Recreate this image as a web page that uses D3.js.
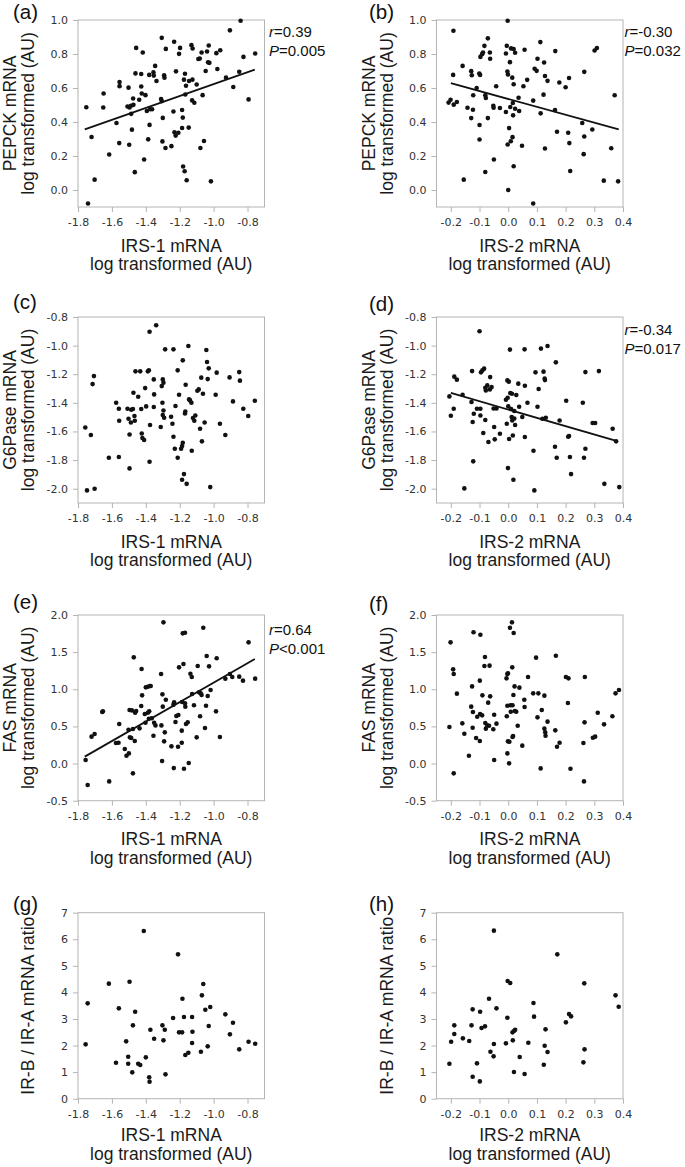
<!DOCTYPE html>
<html><head><meta charset="utf-8">
<script src="https://cdn.jsdelivr.net/npm/d3@7"></script>
<style>body{margin:0;background:#fff}svg{display:block}</style>
</head><body><svg id="c" width="685" height="1167"></svg>
<script>
// ---------- DATA ----------
const xTicksIrs1 = [-1.8, -1.6, -1.4, -1.2, -1.0, -0.8];
const xTicksIrs2 = [-0.2, -0.1, 0.0, 0.1, 0.2, 0.3, 0.4];
const yTicksPepck = [0.0, 0.2, 0.4, 0.6, 0.8, 1.0];
const yTicksG6pase = [-2.0, -1.8, -1.6, -1.4, -1.2, -1.0, -0.8];
const yTicksFas = [-0.5, 0.0, 0.5, 1.0, 1.5, 2.0];
const yTicksRatio = [0, 1, 2, 3, 4, 5, 6, 7];

const pepckVsIrs1 = [[-1.751,0.487],[-1.741,-0.079],[-1.72,0.312],[-1.702,0.061],[-1.651,0.485],[-1.649,0.568],[-1.616,0.209],[-1.573,0.394],[-1.557,0.276],[-1.555,0.635],[-1.555,0.611],[-1.502,0.602],[-1.508,0.491],[-1.496,0.485],[-1.498,0.266],[-1.488,0.495],[-1.486,0.448],[-1.482,0.355],[-1.475,0.538],[-1.473,0.501],[-1.465,0.105],[-1.461,0.686],[-1.457,0.836],[-1.439,0.531],[-1.427,0.682],[-1.427,0.609],[-1.424,0.568],[-1.418,0.809],[-1.41,0.179],[-1.402,0.558],[-1.394,0.465],[-1.386,0.298],[-1.38,0.677],[-1.375,0.475],[-1.378,0.383],[-1.363,0.475],[-1.355,0.692],[-1.353,0.673],[-1.345,0.73],[-1.337,0.641],[-1.306,0.895],[-1.31,0.535],[-1.306,0.523],[-1.302,0.286],[-1.3,0.424],[-1.292,0.675],[-1.29,0.661],[-1.282,0.83],[-1.284,0.247],[-1.249,0.258],[-1.237,0.462],[-1.233,0.872],[-1.231,0.339],[-1.224,0.32],[-1.222,0.698],[-1.208,0.337],[-1.204,0.801],[-1.198,0.836],[-1.186,0.471],[-1.186,0.365],[-1.182,0.426],[-1.18,0.138],[-1.175,0.649],[-1.171,0.11],[-1.169,0.684],[-1.167,0.562],[-1.163,0.613],[-1.159,0.057],[-1.147,0.367],[-1.145,0.641],[-1.131,0.852],[-1.127,0.527],[-1.125,0.649],[-1.124,0.832],[-1.114,0.513],[-1.1,0.621],[-1.09,0.771],[-1.082,0.773],[-1.078,0.247],[-1.071,0.809],[-1.065,0.558],[-1.057,0.288],[-1.047,0.7],[-1.039,0.815],[-1.033,0.751],[-1.029,0.85],[-1.025,0.748],[-1.016,0.051],[-0.978,0.712],[-0.984,0.805],[-0.961,0.822],[-0.927,0.661],[-0.904,0.939],[-0.884,0.606],[-0.849,0.696],[-0.841,0.996],[-0.824,0.783],[-0.794,0.533],[-0.755,0.803]];

const pepckVsIrs2 = [[-0.208,0.514],[-0.201,0.531],[-0.19,0.502],[-0.179,0.518],[-0.191,0.937],[-0.192,0.677],[-0.159,0.73],[-0.155,0.061],[-0.142,0.484],[-0.129,0.699],[-0.127,0.675],[-0.129,0.423],[-0.123,0.472],[-0.122,0.557],[-0.11,0.6],[-0.101,0.685],[-0.098,0.677],[-0.1,0.382],[-0.1,0.297],[-0.097,0.783],[-0.091,0.799],[-0.088,0.809],[-0.083,0.848],[-0.08,0.557],[-0.078,0.541],[-0.08,0.106],[-0.071,0.892],[-0.071,0.423],[-0.064,0.809],[-0.063,0.772],[-0.052,0.496],[-0.051,0.484],[-0.05,0.179],[-0.042,0.61],[-0.029,0.482],[-0.008,0.459],[-0.008,0.803],[-0.005,0.848],[-0.002,0.996],[-0.003,0.697],[-0.001,0.679],[-0.002,0.268],[0.0,0.0],[0.003,0.364],[0.006,0.752],[0.007,0.488],[0.01,0.833],[0.009,0.287],[0.014,0.661],[0.015,0.311],[0.016,0.512],[0.017,0.439],[0.019,0.829],[0.019,0.622],[0.019,0.14],[0.024,0.807],[0.024,0.478],[0.036,0.543],[0.038,0.465],[0.048,0.26],[0.053,0.61],[0.057,0.825],[0.066,0.648],[0.087,0.526],[0.087,-0.079],[0.092,0.713],[0.099,0.701],[0.102,0.772],[0.112,0.87],[0.113,0.451],[0.123,0.561],[0.125,0.75],[0.128,0.671],[0.128,0.244],[0.137,0.642],[0.164,0.817],[0.163,0.47],[0.17,0.343],[0.178,0.632],[0.2,0.604],[0.209,0.337],[0.212,0.659],[0.213,0.276],[0.216,0.112],[0.258,0.394],[0.263,0.211],[0.265,0.695],[0.265,0.315],[0.293,0.356],[0.301,0.821],[0.309,0.835],[0.333,0.055],[0.359,0.246],[0.371,0.557],[0.383,0.051]];

const g6paseVsIrs1 = [[-1.757,-1.572],[-1.747,-2.012],[-1.724,-1.625],[-1.702,-2.0],[-1.714,-1.269],[-1.706,-1.213],[-1.618,-1.784],[-1.575,-1.399],[-1.559,-1.441],[-1.557,-1.525],[-1.559,-1.779],[-1.508,-1.441],[-1.502,-1.511],[-1.496,-1.621],[-1.496,-1.858],[-1.488,-1.537],[-1.486,-1.448],[-1.476,-1.443],[-1.473,-1.329],[-1.467,-1.492],[-1.465,-1.525],[-1.461,-1.18],[-1.445,-1.357],[-1.433,-1.18],[-1.427,-1.443],[-1.424,-1.614],[-1.42,-1.646],[-1.41,-1.66],[-1.404,-1.297],[-1.398,-1.425],[-1.388,-1.18],[-1.382,-1.173],[-1.378,-0.903],[-1.375,-1.555],[-1.378,-1.812],[-1.353,-1.236],[-1.351,-1.341],[-1.353,-1.429],[-1.339,-0.858],[-1.312,-1.569],[-1.306,-1.283],[-1.3,-1.236],[-1.296,-1.259],[-1.302,-1.399],[-1.3,-1.485],[-1.296,-1.453],[-1.292,-1.504],[-1.286,-1.026],[-1.251,-1.497],[-1.243,-1.546],[-1.237,-1.026],[-1.237,-1.637],[-1.229,-1.721],[-1.225,-1.422],[-1.212,-1.173],[-1.212,-1.784],[-1.204,-1.343],[-1.192,-1.721],[-1.186,-1.702],[-1.182,-1.679],[-1.182,-1.103],[-1.186,-1.938],[-1.175,-1.898],[-1.169,-1.474],[-1.167,-1.46],[-1.165,-1.273],[-1.159,-1.966],[-1.149,-1.003],[-1.145,-1.376],[-1.139,-1.383],[-1.131,-1.399],[-1.129,-1.735],[-1.122,-1.506],[-1.114,-1.525],[-1.108,-1.488],[-1.096,-1.315],[-1.088,-1.306],[-1.08,-1.581],[-1.073,-1.224],[-1.069,-1.669],[-1.063,-1.336],[-1.053,-1.537],[-1.043,-1.031],[-1.039,-1.115],[-1.035,-1.234],[-1.029,-1.159],[-1.02,-1.989],[-0.988,-1.343],[-0.982,-1.189],[-0.963,-1.546],[-0.931,-1.625],[-0.906,-1.222],[-0.886,-1.39],[-0.849,-1.185],[-0.845,-1.245],[-0.825,-1.441],[-0.796,-1.492],[-0.757,-1.385]];

const g6paseVsIrs2 = [[-0.205,-1.355],[-0.2,-1.49],[-0.19,-1.441],[-0.188,-1.217],[-0.179,-1.238],[-0.159,-1.343],[-0.153,-1.998],[-0.128,-1.394],[-0.126,-1.178],[-0.124,-1.534],[-0.122,-1.809],[-0.12,-1.476],[-0.109,-1.441],[-0.1,-0.9],[-0.097,-1.441],[-0.097,-1.488],[-0.095,-1.187],[-0.09,-1.173],[-0.087,-1.611],[-0.084,-1.161],[-0.08,-1.294],[-0.08,-1.52],[-0.078,-1.313],[-0.073,-1.278],[-0.069,-1.674],[-0.064,-1.306],[-0.063,-1.22],[-0.058,-1.29],[-0.051,-1.439],[-0.049,-1.569],[-0.047,-1.655],[-0.041,-1.439],[-0.029,-1.616],[-0.008,-1.378],[-0.001,-1.856],[-0.005,-1.546],[-0.003,-1.243],[-0.002,-1.364],[0.0,-1.425],[0.002,-1.252],[0.003,-1.653],[0.006,-1.028],[0.007,-1.331],[0.01,-1.443],[0.012,-1.499],[0.013,-1.336],[0.014,-1.523],[0.016,-1.628],[0.018,-1.938],[0.021,-1.509],[0.021,-1.457],[0.024,-1.555],[0.028,-1.345],[0.035,-1.266],[0.038,-1.427],[0.049,-1.499],[0.057,-1.026],[0.058,-1.28],[0.058,-1.639],[0.067,-1.399],[0.088,-1.735],[0.091,-2.012],[0.095,-1.187],[0.102,-1.427],[0.106,-1.303],[0.114,-1.021],[0.119,-1.511],[0.123,-1.182],[0.127,-1.231],[0.128,-1.241],[0.131,-1.504],[0.137,-1.003],[0.166,-1.117],[0.163,-1.707],[0.169,-1.784],[0.179,-1.523],[0.202,-1.385],[0.209,-1.637],[0.212,-1.632],[0.215,-1.779],[0.219,-1.898],[0.26,-1.399],[0.264,-1.784],[0.269,-1.185],[0.269,-1.721],[0.294,-1.541],[0.303,-1.541],[0.316,-1.178],[0.335,-1.966],[0.364,-1.581],[0.376,-1.669],[0.387,-1.989]];

const fasVsIrs1 = [[-1.755,0.048],[-1.743,-0.289],[-1.72,0.362],[-1.702,0.398],[-1.657,0.694],[-1.653,0.703],[-1.616,-0.24],[-1.576,0.277],[-1.561,0.281],[-1.557,0.532],[-1.524,0.196],[-1.514,0.106],[-1.5,0.137],[-1.502,0.456],[-1.496,0.721],[-1.494,0.353],[-1.486,0.344],[-1.482,0.716],[-1.476,-0.132],[-1.476,0.465],[-1.471,1.43],[-1.465,0.303],[-1.463,0.685],[-1.457,0.707],[-1.437,0.474],[-1.427,0.775],[-1.425,1.273],[-1.422,0.918],[-1.406,0.667],[-1.402,0.55],[-1.4,1.026],[-1.388,0.685],[-1.388,1.035],[-1.382,0.604],[-1.38,0.703],[-1.376,1.044],[-1.371,1.044],[-1.365,0.609],[-1.355,0.375],[-1.351,0.55],[-1.343,0.514],[-1.31,1.206],[-1.308,0.514],[-1.304,0.034],[-1.302,0.932],[-1.3,0.766],[-1.296,1.901],[-1.292,0.299],[-1.288,0.42],[-1.282,0.86],[-1.249,0.232],[-1.237,0.793],[-1.235,-0.061],[-1.233,0.824],[-1.225,0.559],[-1.22,0.64],[-1.21,0.227],[-1.208,0.653],[-1.204,1.295],[-1.188,0.443],[-1.188,0.281],[-1.186,0.829],[-1.182,1.753],[-1.178,1.34],[-1.175,-0.07],[-1.169,1.762],[-1.169,0.811],[-1.167,0.766],[-1.163,0.532],[-1.153,0.555],[-1.147,0.007],[-1.137,1.21],[-1.129,1.165],[-1.127,0.936],[-1.116,0.784],[-1.1,0.353],[-1.094,1.313],[-1.086,0.959],[-1.08,0.636],[-1.076,0.945],[-1.071,0.923],[-1.061,1.829],[-1.051,0.478],[-1.045,0.779],[-1.041,1.448],[-1.035,0.909],[-1.027,1.309],[-1.018,0.99],[-0.986,0.703],[-0.982,1.417],[-0.963,0.357],[-0.931,1.143],[-0.904,1.206],[-0.89,1.165],[-0.849,1.17],[-0.827,1.116],[-0.794,1.632],[-0.755,1.143]];

const fasVsIrs2 = [[-0.201,1.632],[-0.205,0.492],[-0.192,1.268],[-0.19,1.206],[-0.19,-0.132],[-0.179,0.941],[-0.16,0.541],[-0.153,0.402],[-0.137,0.106],[-0.129,0.766],[-0.126,1.039],[-0.124,0.483],[-0.123,0.694],[-0.121,1.767],[-0.112,0.344],[-0.108,0.631],[-0.099,0.303],[-0.099,1.116],[-0.098,0.667],[-0.097,1.735],[-0.091,0.649],[-0.09,0.918],[-0.083,1.313],[-0.081,1.434],[-0.08,0.546],[-0.078,0.47],[-0.073,0.514],[-0.07,0.82],[-0.067,0.51],[-0.065,1.318],[-0.063,0.905],[-0.052,0.461],[-0.049,0.658],[-0.049,0.048],[-0.041,0.537],[-0.006,1.147],[-0.005,0.636],[-0.003,1.206],[-0.003,0.137],[-0.003,0.779],[-0.001,1.215],[-0.001,0.299],[0.003,0.003],[0.004,0.294],[0.006,1.829],[0.008,0.784],[0.009,0.698],[0.013,1.901],[0.014,1.295],[0.015,0.357],[0.015,0.784],[0.017,0.371],[0.018,0.923],[0.019,1.758],[0.022,1.039],[0.023,0.707],[0.028,0.698],[0.033,0.51],[0.039,1.022],[0.049,0.241],[0.056,0.86],[0.057,0.761],[0.069,1.165],[0.087,0.945],[0.097,1.426],[0.102,0.622],[0.105,0.945],[0.113,-0.065],[0.117,0.721],[0.126,0.914],[0.126,0.47],[0.129,0.42],[0.13,0.375],[0.137,0.564],[0.164,0.447],[0.166,1.452],[0.17,0.227],[0.179,0.281],[0.201,1.165],[0.208,0.815],[0.21,1.147],[0.217,-0.07],[0.262,0.277],[0.264,-0.24],[0.266,0.555],[0.267,1.165],[0.295,0.348],[0.303,0.362],[0.312,0.685],[0.334,0.528],[0.363,0.636],[0.374,0.945],[0.386,0.99]];

const ratioVsIrs1 = [[-1.755,2.045],[-1.743,3.588],[-1.618,4.329],[-1.576,1.355],[-1.559,3.4],[-1.516,2.158],[-1.504,1.581],[-1.504,1.317],[-1.496,4.404],[-1.48,0.991],[-1.476,2.76],[-1.463,3.275],[-1.445,1.317],[-1.433,1.267],[-1.412,6.311],[-1.4,1.556],[-1.38,0.803],[-1.378,0.64],[-1.373,2.597],[-1.351,2.258],[-1.302,2.76],[-1.296,2.196],[-1.288,2.597],[-1.284,0.916],[-1.239,3.036],[-1.21,5.433],[-1.204,2.497],[-1.186,2.497],[-1.184,3.764],[-1.175,3.074],[-1.167,1.644],[-1.149,1.732],[-1.127,3.074],[-1.125,2.522],[-1.127,2.095],[-1.075,1.769],[-1.069,3.89],[-1.061,4.316],[-1.049,3.35],[-1.035,1.97],[-1.029,2.735],[-1.02,3.45],[-0.931,3.174],[-0.904,2.422],[-0.886,2.861],[-0.849,1.857],[-0.794,2.146],[-0.755,2.07]];

const ratioVsIrs2 = [[-0.205,1.317],[-0.199,2.146],[-0.188,2.76],[-0.188,2.434],[-0.158,2.271],[-0.136,2.171],[-0.128,2.76],[-0.124,3.363],[-0.124,0.828],[-0.109,1.33],[-0.098,3.275],[-0.099,0.652],[-0.093,2.66],[-0.081,2.723],[-0.067,3.764],[-0.062,1.769],[-0.05,6.324],[-0.05,2.058],[-0.051,1.593],[-0.041,3.4],[-0.008,2.083],[-0.003,3.049],[-0.002,4.429],[0.007,4.354],[0.015,2.497],[0.016,2.196],[0.02,1.004],[0.021,2.56],[0.024,2.597],[0.04,1.568],[0.057,0.928],[0.07,2.108],[0.088,3.601],[0.09,3.087],[0.124,1.28],[0.127,1.995],[0.13,2.61],[0.137,1.757],[0.171,5.433],[0.201,2.873],[0.212,3.187],[0.219,3.099],[0.262,1.368],[0.265,4.341],[0.266,1.857],[0.374,3.89],[0.385,3.463]];

// regression line end points
const fitA = [[-1.76, 0.357], [-0.757, 0.708]];
const fitB = [[-0.2, 0.628], [0.385, 0.357]];
const fitD = [[-0.2, -1.331], [0.38, -1.667]];
const fitE = [[-1.76, 0.093], [-0.757, 1.408]];

// stats text
const statsA = ["0.39", "=0.005"];
const statsB = ["-0.30", "=0.032"];
const statsD = ["-0.34", "=0.017"];
const statsE = ["0.64", "<0.001"];

// ---------- LAYOUT ----------
const svg = d3.select('#c');
const colLeft = [78, 436.5];
const plotW = 186.5;
const rows = [
  {top: 20, bottom: 207, title1: 44.5, title2: 63},
  {top: 317, bottom: 503, title1: 44.5, title2: 63},
  {top: 615, bottom: 800.7, title1: 44.5, title2: 63},
  {top: 912.7, bottom: 1098.7, title1: 42.5, title2: 61}
];
const FRAME = '#b4b4b4';
const TITLE_FONT = '"Liberation Sans", Arial, sans-serif';
const TICK_FONT = '"DejaVu Sans", Verdana, sans-serif';

const panels = [
  {label:'(a)', col:0, row:0, labelY:18.5, data:pepckVsIrs1, fit:fitA, stats:statsA, statsDy:17,
   xDomain:[-1.8,-0.7], xTicks:xTicksIrs1, yDomain:[-0.1,1.0], yTicks:yTicksPepck, yFmt:1,
   xTitle:['IRS-1 mRNA','log transformed (AU)'], yTitle:['PEPCK mRNA','log transformed (AU)']},
  {label:'(b)', col:1, row:0, labelY:18.5, data:pepckVsIrs2, fit:fitB, stats:statsB, statsDy:17,
   xDomain:[-0.25,0.4], xTicks:xTicksIrs2, yDomain:[-0.1,1.0], yTicks:yTicksPepck, yFmt:1,
   xTitle:['IRS-2 mRNA','log transformed (AU)'], yTitle:['PEPCK mRNA','log transformed (AU)']},
  {label:'(c)', col:0, row:1, labelY:309, data:g6paseVsIrs1,
   xDomain:[-1.8,-0.7], xTicks:xTicksIrs1, yDomain:[-2.1,-0.8], yTicks:yTicksG6pase, yFmt:1,
   xTitle:['IRS-1 mRNA','log transformed (AU)'], yTitle:['G6Pase mRNA','log transformed (AU)']},
  {label:'(d)', col:1, row:1, labelY:311, data:g6paseVsIrs2, fit:fitD, stats:statsD, statsDy:18,
   xDomain:[-0.25,0.4], xTicks:xTicksIrs2, yDomain:[-2.1,-0.8], yTicks:yTicksG6pase, yFmt:1,
   xTitle:['IRS-2 mRNA','log transformed (AU)'], yTitle:['G6Pase mRNA','log transformed (AU)']},
  {label:'(e)', col:0, row:2, labelY:609, data:fasVsIrs1, fit:fitE, stats:statsE, statsDy:20,
   xDomain:[-1.8,-0.7], xTicks:xTicksIrs1, yDomain:[-0.5,2.0], yTicks:yTicksFas, yFmt:1,
   xTitle:['IRS-1 mRNA','log transformed (AU)'], yTitle:['FAS mRNA','log transformed (AU)']},
  {label:'(f)', col:1, row:2, labelY:611, data:fasVsIrs2,
   xDomain:[-0.25,0.4], xTicks:xTicksIrs2, yDomain:[-0.5,2.0], yTicks:yTicksFas, yFmt:1,
   xTitle:['IRS-2 mRNA','log transformed (AU)'], yTitle:['FAS mRNA','log transformed (AU)']},
  {label:'(g)', col:0, row:3, labelY:911, data:ratioVsIrs1,
   xDomain:[-1.8,-0.7], xTicks:xTicksIrs1, yDomain:[0,7], yTicks:yTicksRatio, yFmt:0,
   xTitle:['IRS-1 mRNA','log transformed (AU)'], yTitle:['IR-B / IR-A mRNA ratio']},
  {label:'(h)', col:1, row:3, labelY:911, data:ratioVsIrs2,
   xDomain:[-0.25,0.4], xTicks:xTicksIrs2, yDomain:[0,7], yTicks:yTicksRatio, yFmt:0,
   xTitle:['IRS-2 mRNA','log transformed (AU)'], yTitle:['IR-B / IR-A mRNA ratio']}
];

function styleAxis(sel) {
  sel.select('.domain').remove();
  sel.selectAll('.tick line').attr('stroke', FRAME);
  sel.selectAll('.tick text').attr('font-family', TICK_FONT).attr('font-size', 11).attr('fill', '#333');
}

panels.forEach(p => {
  const L = colLeft[p.col], R = L + plotW;
  const rw = rows[p.row], T = rw.top, B = rw.bottom;
  const x = d3.scaleLinear().domain(p.xDomain).range([L, R]);
  const y = d3.scaleLinear().domain(p.yDomain).range([B, T]);
  const g = svg.append('g');

  g.append('g').attr('transform', `translate(0,${B})`)
    .call(d3.axisBottom(x).tickValues(p.xTicks).tickFormat(d => d.toFixed(1)).tickSizeInner(5).tickSizeOuter(0).tickPadding(6.5))
    .call(styleAxis);
  g.append('g').attr('transform', `translate(${L},0)`)
    .call(d3.axisLeft(y).tickValues(p.yTicks).tickFormat(d => d.toFixed(p.yFmt)).tickSizeInner(5).tickSizeOuter(0).tickPadding(5))
    .call(styleAxis);

  g.append('rect').attr('x', L).attr('y', T).attr('width', R - L).attr('height', B - T)
    .attr('fill', 'none').attr('stroke', FRAME).attr('stroke-width', 1);

  g.append('g').selectAll('circle').data(p.data).join('circle')
    .attr('cx', d => x(d[0])).attr('cy', d => y(d[1])).attr('r', 2.3).attr('fill', '#111');

  if (p.fit) {
    g.append('path').datum(p.fit)
      .attr('d', d3.line().x(d => x(d[0])).y(d => y(d[1])))
      .attr('stroke', '#111').attr('stroke-width', 1.8).attr('fill', 'none');
  }

  if (p.stats) {
    const sx = p.col === 0 ? R + 4.5 : R + 1.5;
    const t1 = g.append('text').attr('x', sx).attr('y', T + p.statsDy)
      .attr('font-family', TITLE_FONT).attr('font-size', 15).attr('fill', '#111');
    t1.append('tspan').attr('font-style', 'italic').text('r');
    t1.append('tspan').text('=' + p.stats[0]);
    const t2 = g.append('text').attr('x', sx).attr('y', T + p.statsDy + 18.5)
      .attr('font-family', TITLE_FONT).attr('font-size', 15).attr('fill', '#111');
    t2.append('tspan').attr('font-style', 'italic').text('P');
    t2.append('tspan').text(p.stats[1]);
  }

  // panel label
  g.append('text').attr('x', p.col === 0 ? 13 : 369).attr('y', p.labelY)
    .attr('font-family', TITLE_FONT).attr('font-size', 20.5).attr('fill', '#111').text(p.label);

  // x title
  const cx = (L + R) / 2;
  [rw.title1, rw.title2].forEach((off, i) => {
    g.append('text').attr('x', cx).attr('y', B + off).attr('text-anchor', 'middle')
      .attr('font-family', TITLE_FONT).attr('font-size', 17.5).attr('fill', '#1a1a1a').text(p.xTitle[i]);
  });

  // y title
  const cy = (T + B) / 2;
  const offs = p.yTitle.length === 2 ? [62, 44] : [44];
  p.yTitle.forEach((t, i) => {
    g.append('text').attr('transform', `translate(${L - offs[i]},${cy}) rotate(-90)`)
      .attr('text-anchor', 'middle').attr('font-family', TITLE_FONT).attr('font-size', 17.5)
      .attr('fill', '#1a1a1a').text(t);
  });
});
</script>
</body></html>
